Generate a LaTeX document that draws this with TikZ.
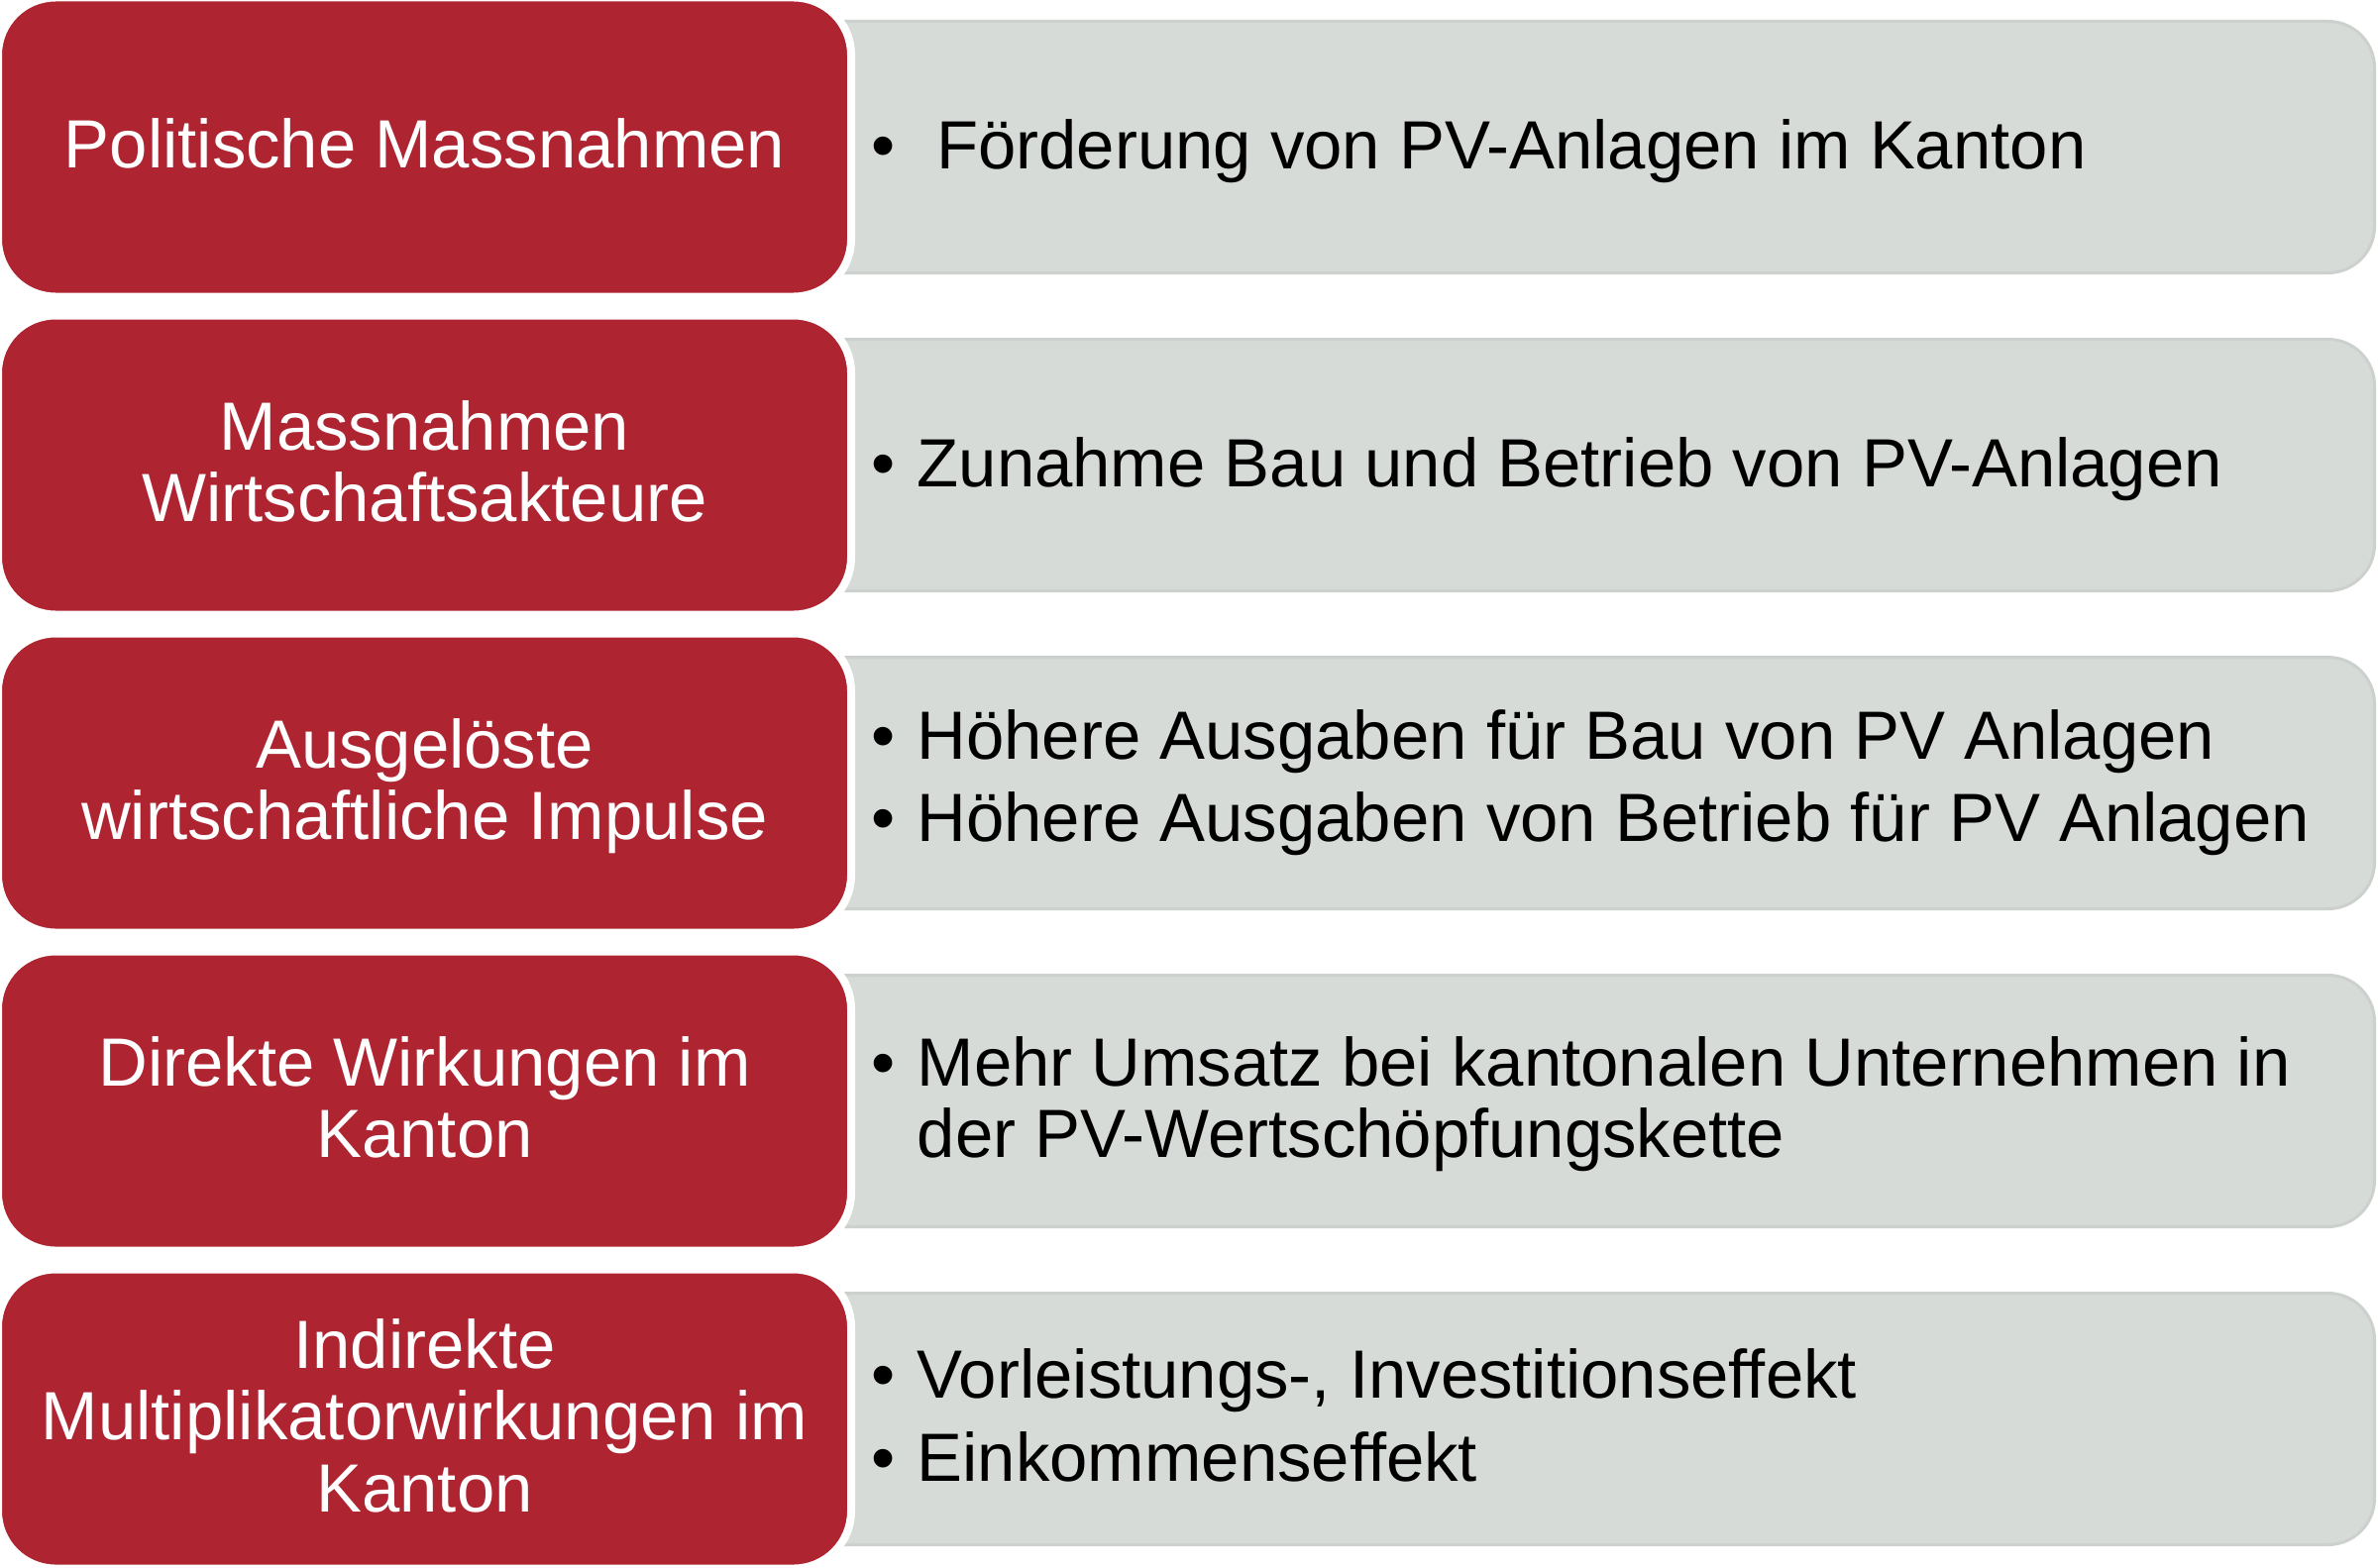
\documentclass[tikz,border=0pt]{standalone}
\usepackage{fontspec}
\setmainfont{Liberation Sans}
\definecolor{kantonred}{HTML}{AE2431}
\definecolor{panelgrey}{HTML}{D6DBD7}
\definecolor{panelline}{HTML}{CCD1CD}
\newcommand{\rowfont}{\fontsize{19.6}{20.5}\selectfont}
\newcommand{\topstrut}{\rule{0pt}{0.645cm}}
\newcommand{\bul}[1][0.465cm]{\makebox[#1][l]{\strut•}}
\begin{document}
\begin{tikzpicture}[
        redbox/.style={rectangle, fill=kantonred, draw=white, line width=0.08cm, rounded corners=0.58cm, minimum width=8.61cm, minimum height=3.02cm, inner sep=0pt, align=center, text=white, font=\rowfont},
        panel/.style={rectangle, fill=panelgrey, draw=panelline, line width=0.03cm, rounded corners=0.47cm, minimum width=16.46cm, minimum height=2.54cm},
        items/.style={anchor=west, align=left, inner sep=0pt, font=\rowfont}
    ]
        \useasboundingbox (0,0) rectangle (24,-15.82);

        % Politische Massnahmen
        \node[panel] (p1) at (15.735,-1.485) {};
        \node[redbox] (r1) at (4.285,-1.485) {\topstrut Politische Massnahmen\strut};
        \node[items] (t1) at (8.785,-1.556) {\bul[0.66cm]Förderung von PV-Anlagen im Kanton};

        % Wirtschaftsakteure
        \node[panel] (p2) at (15.735,-4.695) {};
        \node[redbox] (r2) at (4.285,-4.695) {\topstrut Massnahmen\\Wirtschaftsakteure\strut};
        \node[items] (t2) at (8.785,-4.766) {\bul Zunahme Bau und Betrieb von PV-Anlagen};

        % Impulse
        \node[panel] (p3) at (15.735,-7.905) {};
        \node[redbox] (r3) at (4.285,-7.905) {\topstrut Ausgelöste\\wirtschaftliche Impulse\strut};
        \node[items] (t3) at (8.785,-7.936) {\bul Höhere Ausgaben für Bau von PV Anlagen\\[0.1cm]\bul Höhere Ausgaben von Betrieb für PV Anlagen};

        % Direkte Wirkungen
        \node[panel] (p4) at (15.735,-11.115) {};
        \node[redbox] (r4) at (4.285,-11.115) {\topstrut Direkte Wirkungen im\\Kanton\strut};
        \node[items] (t4) at (8.785,-11.176) {\bul Mehr Umsatz bei kantonalen Unternehmen in\\\hspace*{0.465cm}der PV-Wertschöpfungskette\strut};

        % Indirekte Wirkungen
        \node[panel] (p5) at (15.735,-14.325) {};
        \node[redbox] (r5) at (4.285,-14.325) {\topstrut Indirekte\\Multiplikatorwirkungen im\\Kanton\strut};
        \node[items] (t5) at (8.785,-14.386) {\bul Vorleistungs-, Investitionseffekt\\[0.12cm]\bul Einkommenseffekt};

    \end{tikzpicture}
\end{document}
